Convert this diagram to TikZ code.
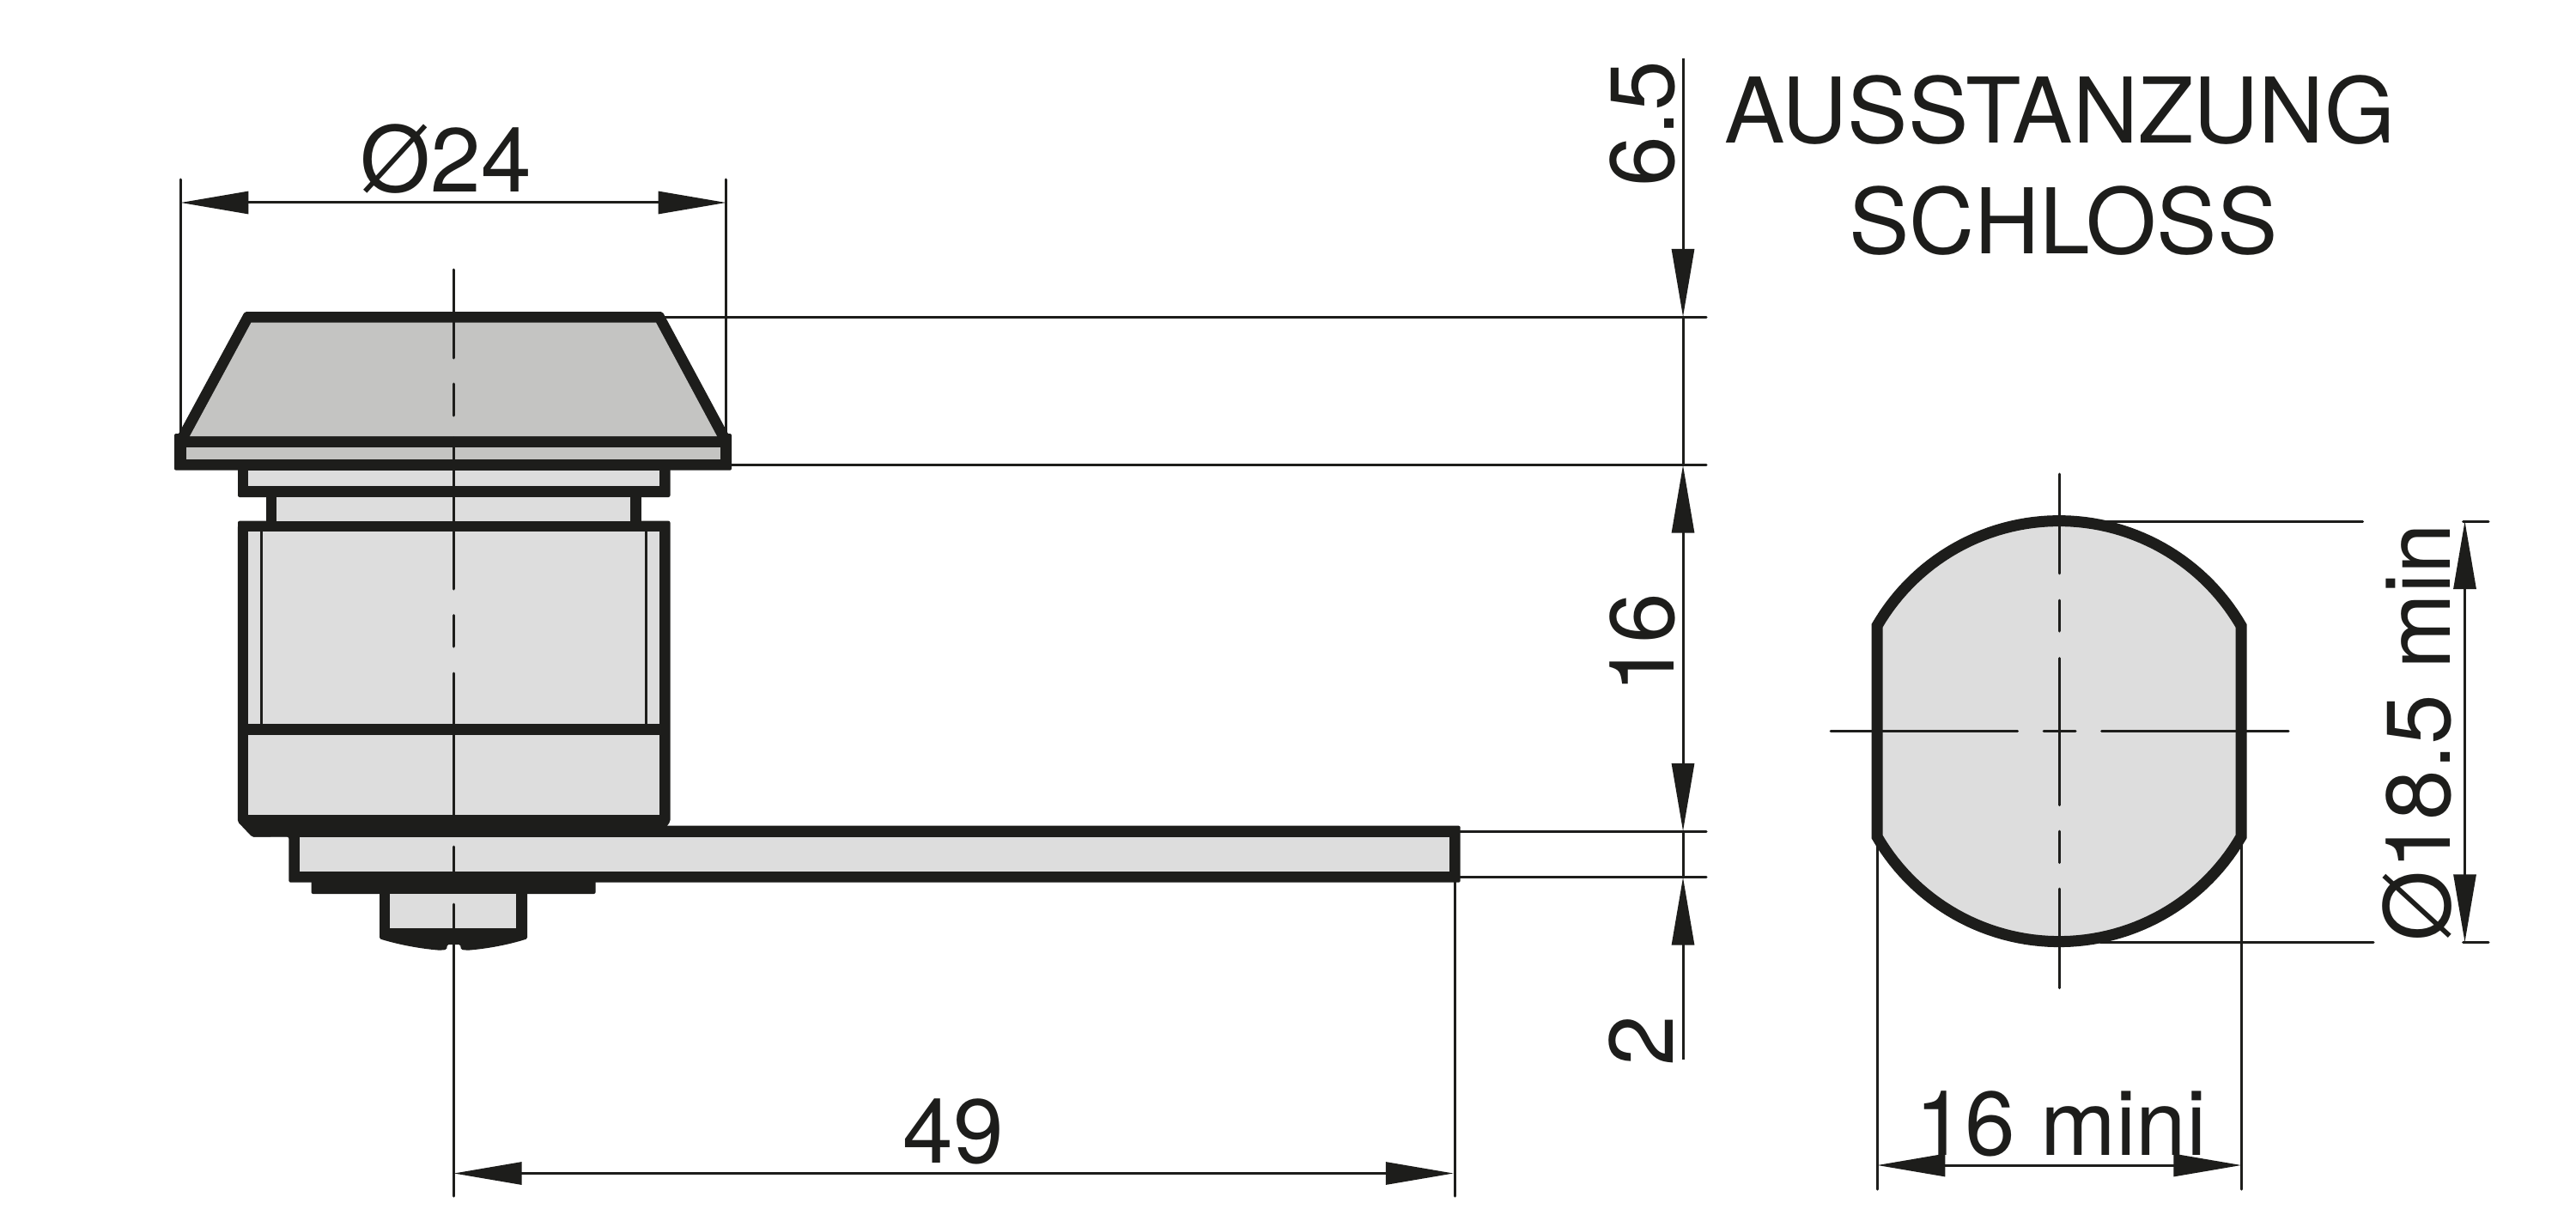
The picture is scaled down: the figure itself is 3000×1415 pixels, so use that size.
\documentclass[tikz,border=0pt]{standalone}
\usepackage{fontspec}
\setmainfont{TeX Gyre Heros}
\usetikzlibrary{arrows.meta}
\definecolor{ink}{HTML}{1D1D1B}
\definecolor{capgray}{HTML}{C4C4C2}
\definecolor{bodygray}{HTML}{DDDDDD}
\tikzset{
  x=1pt,y=-1pt,
  thinline/.style={draw=ink,line width=3pt,line cap=round},
  solid ink/.style={fill=ink,rounded corners=2pt},
  dimone/.style={thinline,line cap=butt,-{Triangle[length=79pt,width=26pt]}},
  dimtwo/.style={thinline,line cap=butt,{Triangle[length=79pt,width=26pt]}-{Triangle[length=79pt,width=26pt]}},
  label/.style={inner sep=0pt,outer sep=0pt,anchor=base,text=ink,font=\fontsize{105.5}{112}\selectfont},
}
\begin{document}
\begin{tikzpicture}
\useasboundingbox (0,0) rectangle (3000,1415);
\fill[white] (0,0) rectangle (3000,1415);

% extension lines (left view)
\draw[thinline] (210.4,209) -- (210.4,505);
\draw[thinline] (845.6,209) -- (845.6,505);
\draw[thinline] (771,369) -- (1987,369);
\draw[thinline] (852,541.7) -- (1987,541.7);
\draw[thinline] (1700,968) -- (1987,968);
\draw[thinline] (1700,1021.7) -- (1987,1021.7);
\draw[thinline] (1694.2,1027) -- (1694.2,1393);

% black silhouette
\fill[solid ink] (285,363) -- (771.5,363) -- (849,507) -- (207,507) -- cycle;
\fill[solid ink] (203,505) rectangle (852,547.7);
\fill[solid ink] (277,540) rectangle (780.5,579);
\fill[ink] (310,575) rectangle (747,610);
\fill[solid ink] (277,606.7) -- (780.5,606.7) -- (780.5,957) -- (776,963) -- (776,970) -- (293.6,974.7) -- (276.8,957) -- cycle;
\fill[solid ink] (293.6,961.7) -- (1700.7,961.7) -- (1700.7,1027.7) -- (336.4,1027.7) -- (336.4,974.7) -- (293.6,974.7) -- cycle;
\fill[solid ink] (362.5,1020) rectangle (693.6,1041);
\fill[ink,rounded corners=1.5pt] (442,1035) -- (614,1035) -- (614,1093.3)
  .. controls (590,1101) and (565,1105) .. (545,1106.7)
  -- (537,1106) -- (536,1100) -- (521,1100) -- (520,1106) -- (512,1106.7)
  .. controls (492,1105) and (467,1101) .. (442,1093.3) -- cycle;

% grey faces
\fill[capgray] (292.5,375.7) -- (764,375.7) -- (835,508) -- (221,508) -- cycle;
\fill[capgray] (216.6,520.7) rectangle (839.4,535);
\fill[bodygray] (289,547.7) rectangle (767.5,566);
\fill[bodygray] (322.4,579) rectangle (734,606.7);
\fill[bodygray] (289,619.3) rectangle (767.5,842.7);
\fill[bodygray] (289,855.7) rectangle (767.5,949);
\fill[bodygray] (349,974.7) rectangle (1687.7,1015);
\fill[bodygray] (454,1041) rectangle (601.4,1081.3);

% inner thin lines and centre line
\draw[thinline,line cap=butt] (304,619) -- (304,843);
\draw[thinline,line cap=butt] (752.4,619) -- (752.4,843);
\draw[thinline] (528.6,314) -- (528.6,417);
\draw[thinline] (528.6,447) -- (528.6,484);
\draw[thinline] (528.6,510) -- (528.6,686);
\draw[thinline] (528.6,716.7) -- (528.6,753);
\draw[thinline] (528.6,784) -- (528.6,955);
\draw[thinline] (528.6,986) -- (528.6,1020);
\draw[thinline] (528.6,1053) -- (528.6,1085);
\draw[thinline] (528.6,1095) -- (528.6,1393);

% dimensions, left view
\draw[dimtwo] (210.4,236) -- (845.6,236);
\draw[dimtwo] (528.6,1366.5) -- (1692.8,1366.5);
\draw[dimone] (1960,68) -- (1960,369);
\draw[thinline] (1960,369) -- (1960,541.7);
\draw[dimtwo] (1960,541.7) -- (1960,968);
\draw[thinline] (1960,968) -- (1960,1021.7);
\draw[dimone] (1960,1234) -- (1960,1021.7);

% right view
\draw[thinline] (2446,607) -- (2751.6,607);
\draw[thinline] (2868.5,607) -- (2898,607);
\draw[thinline] (2446,1097.3) -- (2764,1097.3);
\draw[thinline] (2868.5,1097.3) -- (2898,1097.3);
\draw[thinline] (2186.3,976) -- (2186.3,1385);
\draw[thinline] (2610.3,976) -- (2610.3,1385);
\filldraw[draw=ink,fill=bodygray,line width=13pt,line join=miter,miter limit=3]
  plot[domain=149.93:30.07,samples=60] ({2398+245*cos(\x)},{851.6-245*sin(\x)})
  -- plot[domain=-30.07:-149.93,samples=60] ({2398+245*cos(\x)},{851.6-245*sin(\x)}) -- cycle;
\draw[thinline] (2398,552) -- (2398,667.8);
\draw[thinline] (2398,699) -- (2398,735);
\draw[thinline] (2398,766.5) -- (2398,937.7);
\draw[thinline] (2398,968) -- (2398,1004.6);
\draw[thinline] (2398,1035) -- (2398,1150.5);
\draw[thinline] (2132,851.6) -- (2349.6,851.6);
\draw[thinline] (2380,851.6) -- (2417,851.6);
\draw[thinline] (2447.5,851.6) -- (2665,851.6);
\draw[dimtwo] (2870.5,607) -- (2870.5,1097.3);
\draw[dimtwo] (2186.3,1357) -- (2610.3,1357);

% labels
\node[label] (dia24) at (519.5,224) {Ø24};
\node[label] (len49) at (1110,1354) {49};
\node[label,rotate=90] (h65) at (1949,144) {6.5};
\node[label,rotate=90] (h16) at (1949,749) {16};
\node[label,rotate=90] (h2) at (1948,1212) {2};
\node[label] (title1) at (2399,167) {AUSSTANZUNG};
\node[label] (title2) at (2403,295) {SCHLOSS};
\node[label,rotate=90] (dia185) at (2853,852.7) {Ø18.5 min};
\node[label] (w16) at (2400,1345) {16 mini};
\end{tikzpicture}
\end{document}
